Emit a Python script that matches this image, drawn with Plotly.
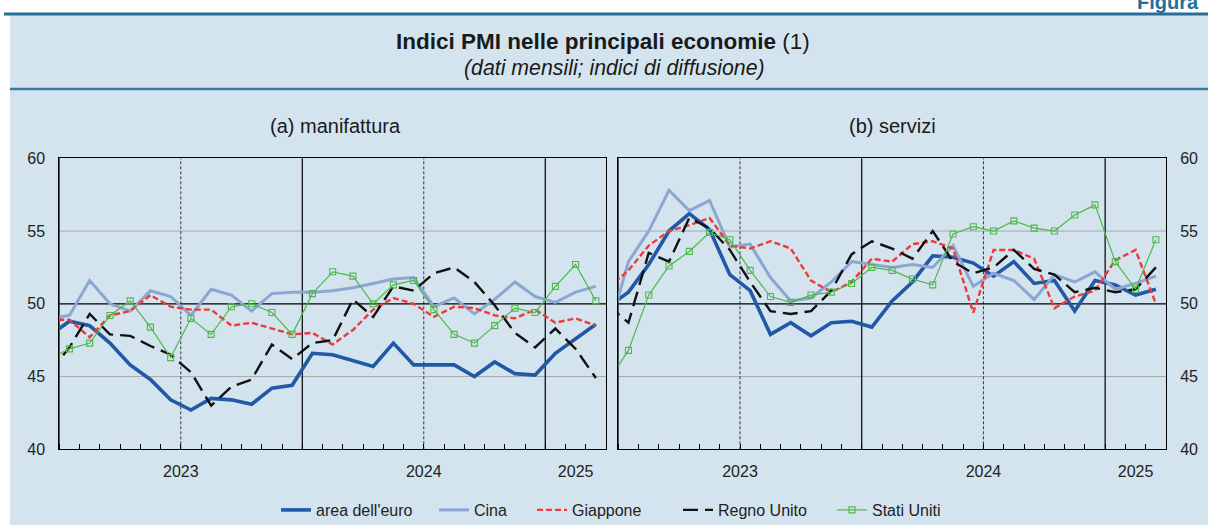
import plotly.graph_objects as go

# ---------------- data ----------------
months = ["2022-12",
          "2023-01", "2023-02", "2023-03", "2023-04", "2023-05", "2023-06",
          "2023-07", "2023-08", "2023-09", "2023-10", "2023-11", "2023-12",
          "2024-01", "2024-02", "2024-03", "2024-04", "2024-05", "2024-06",
          "2024-07", "2024-08", "2024-09", "2024-10", "2024-11", "2024-12",
          "2025-01", "2025-02", "2025-03"]
years = ["2023", "2024", "2025"]
series_names = ["area dell'euro", "Cina", "Giappone", "Regno Unito", "Stati Uniti"]

# (a) manifattura
euro_m  = [47.8, 48.8, 48.5, 47.3, 45.8, 44.8, 43.4, 42.7, 43.5, 43.4, 43.1, 44.2, 44.4,
           46.6, 46.5, 46.1, 45.7, 47.3, 45.8, 45.8, 45.8, 45.0, 46.0, 45.2, 45.1,
           46.6, 47.6, 48.6]
china_m = [49.0, 49.2, 51.6, 50.0, 49.5, 50.9, 50.5, 49.2, 51.0, 50.6, 49.5, 50.7, 50.8,
           50.8, 50.9, 51.1, 51.4, 51.7, 51.8, 49.8, 50.4, 49.3, 50.3, 51.5, 50.5,
           50.1, 50.8, 51.2]
japan_m = [48.9, 48.9, 47.7, 49.2, 49.5, 50.6, 49.8, 49.6, 49.6, 48.5, 48.7, 48.3, 47.9,
           48.0, 47.2, 48.2, 49.6, 50.4, 50.0, 49.1, 49.8, 49.7, 49.2, 49.0, 49.6,
           48.7, 49.0, 48.5]
uk_m    = [45.3, 47.0, 49.3, 47.9, 47.8, 47.1, 46.5, 45.3, 43.0, 44.3, 44.8, 47.2, 46.2,
           47.3, 47.5, 50.3, 49.1, 51.2, 50.9, 52.1, 52.5, 51.5, 49.9, 48.0, 47.0,
           48.3, 46.9, 44.9]
us_m    = [46.2, 46.9, 47.3, 49.2, 50.2, 48.4, 46.3, 49.0, 47.9, 49.8, 50.0, 49.4, 47.9,
           50.7, 52.2, 51.9, 50.0, 51.3, 51.6, 49.6, 47.9, 47.3, 48.5, 49.7, 49.4,
           51.2, 52.7, 50.2]

# (b) servizi
euro_s  = [49.8, 50.8, 52.7, 55.0, 56.2, 55.1, 52.0, 50.9, 47.9, 48.7, 47.8, 48.7, 48.8,
           48.4, 50.2, 51.5, 53.3, 53.2, 52.8, 51.9, 52.9, 51.4, 51.6, 49.5, 51.6,
           51.3, 50.6, 51.0]
china_s = [48.0, 52.9, 55.0, 57.8, 56.4, 57.1, 53.9, 54.1, 51.8, 50.2, 50.4, 51.5, 52.9,
           52.7, 52.5, 52.7, 52.5, 54.0, 51.2, 52.1, 51.6, 50.3, 52.0, 51.5, 52.2,
           51.0, 51.4, 51.9]
japan_s = [51.1, 52.3, 54.0, 55.0, 55.4, 55.9, 54.0, 53.8, 54.3, 53.8, 51.6, 50.8, 51.5,
           53.1, 52.9, 54.1, 54.3, 53.8, 49.4, 53.7, 53.7, 53.1, 49.7, 50.5, 50.9,
           53.0, 53.7, 50.0]
uk_s    = [49.9, 48.7, 53.5, 52.9, 55.9, 55.2, 53.7, 51.5, 49.5, 49.3, 49.5, 50.9, 53.4,
           54.3, 53.8, 53.1, 55.0, 52.9, 52.1, 52.5, 53.7, 52.4, 52.0, 50.8, 51.1,
           50.8, 51.0, 52.5]
us_s    = [44.7, 46.8, 50.6, 52.6, 53.6, 54.9, 54.4, 52.3, 50.5, 50.1, 50.6, 50.8, 51.4,
           52.5, 52.3, 51.7, 51.3, 54.8, 55.3, 55.0, 55.7, 55.2, 55.0, 56.1, 56.8,
           52.9, 51.0, 54.4]

# axis levels
y_min, y_max, y_step = 40, 60, 5
ref_level = 50

# ---------------- geometry / style ----------------
W, H = 1208, 525
FONT = "Liberation Sans, Arial, Helvetica, sans-serif"
TXT = "#222222"
BG = "#d3e4ee"
TEAL = "#2b6e95"


def fx(p):
    return p / W


def fy(p):
    return 1 - p / H


start = months.index("2023-01")
idx = [i - start for i in range(len(months))]
xrange_ = [0 - 0.5, idx[-1] + 0.5]
boundaries = [v - 0.5 for v in idx[1:]] + [idx[-1] + 0.5]
year_lines = [v - 0.5 for v, m in zip(idx, months) if m.endswith("-01")]
mid_lines = [v - 0.5 for v, m in zip(idx, months) if m.endswith("-07")]
year_pos = []
for yr in years:
    vals = [v for v, m in zip(idx, months) if m.startswith(yr)]
    year_pos.append(sum(vals) / len(vals))
grid_levels = [v for v in range(y_min + y_step, y_max, y_step) if v != ref_level]

styles = [
    dict(color="#2159a6", width=3.6, dash="solid", marker=False),
    dict(color="#8ba7d1", width=3.0, dash="solid", marker=False),
    dict(color="#ef3a3a", width=2.4, dash="6px,3px", marker=False),
    dict(color="#111111", width=2.4, dash="15px,7px", marker=False),
    dict(color="#4fb84a", width=1.2, dash="solid", marker=True),
]
# left edge (px) of each legend entry's symbol
legend_left = [281, 439, 537, 683, 837]
legend_ids = ["legend", "legend2", "legend3", "legend4", "legend5"]

panels = [
    dict(xa="x", ya="y", data=[euro_m, china_m, japan_m, uk_m, us_m], legend=True),
    dict(xa="x2", ya="y2", data=[euro_s, china_s, japan_s, uk_s, us_s], legend=False),
]

fig = go.Figure()
for p in panels:
    for k, (name, vals, st) in enumerate(zip(series_names, p["data"], styles)):
        kw = dict(
            x=idx, y=vals, name=name, xaxis=p["xa"], yaxis=p["ya"],
            line=dict(color=st["color"], width=st["width"], dash=st["dash"]),
            showlegend=p["legend"], legend=legend_ids[k], hoverinfo="skip",
        )
        if st["marker"]:
            kw["mode"] = "lines+markers"
            kw["marker"] = dict(symbol="square-open", size=6, color=st["color"],
                                line=dict(width=1.1, color=st["color"]))
        else:
            kw["mode"] = "lines"
        fig.add_trace(go.Scatter(**kw))

ydom = [fy(449.3), fy(158.3)]
xdom1 = [fx(59.3), fx(606.0)]
xdom2 = [fx(618.3), fx(1166.0)]

xcommon = dict(
    range=xrange_, tickmode="array", tickvals=year_pos, ticktext=years,
    ticks="", showgrid=False, zeroline=False,
    showline=True, linecolor="black", linewidth=1, mirror=True,
    tickfont=dict(family=FONT, size=16, color=TXT),
    ticklabelstandoff=7,
    minor=dict(tickmode="array", tickvals=boundaries, ticks="inside",
               ticklen=5, tickwidth=1, tickcolor="black", showgrid=False),
    fixedrange=True,
)
ycommon = dict(
    range=[y_min, y_max], tickmode="linear", tick0=y_min, dtick=y_step,
    ticks="", showgrid=False,
    zeroline=False, showline=True, linecolor="black", linewidth=1, mirror=True,
    tickfont=dict(family=FONT, size=16, color=TXT),
    ticklabelstandoff=10, fixedrange=True,
)

fig.update_layout(
    xaxis=dict(domain=xdom1, anchor="y", **xcommon),
    xaxis2=dict(domain=xdom2, anchor="y2", **xcommon),
    yaxis=dict(domain=ydom, anchor="x", side="left", **ycommon),
    yaxis2=dict(domain=ydom, anchor="x2", side="right", **ycommon),
)

shapes = [
    dict(type="rect", xref="paper", yref="paper", x0=fx(10), x1=1, y0=0, y1=fy(14),
         fillcolor=BG, line=dict(width=0), layer="below"),
    dict(type="line", xref="paper", yref="paper", x0=fx(4), x1=1, y0=fy(14), y1=fy(14),
         line=dict(color=TEAL, width=3), layer="below"),
    dict(type="line", xref="paper", yref="paper", x0=fx(10), x1=1, y0=fy(89), y1=fy(89),
         line=dict(color="#3a7aa2", width=2.5), layer="below"),
]
for xa, ya in [("x", "y"), ("x2", "y2")]:
    for g in grid_levels:
        shapes.append(dict(type="line", xref=f"{xa} domain", yref=ya, x0=0, x1=1, y0=g, y1=g,
                           line=dict(color="#a8a8a8", width=1), layer="below"))
    for v in mid_lines:
        shapes.append(dict(type="line", xref=xa, yref=f"{ya} domain", x0=v, x1=v, y0=0, y1=1,
                           line=dict(color="#333333", width=1, dash="3px,2px"), layer="below"))
    shapes.append(dict(type="line", xref=f"{xa} domain", yref=ya, x0=0, x1=1,
                       y0=ref_level, y1=ref_level,
                       line=dict(color="black", width=1.3), layer="below"))
    for v in year_lines:
        shapes.append(dict(type="line", xref=xa, yref=f"{ya} domain", x0=v, x1=v, y0=0, y1=1,
                           line=dict(color="black", width=1.2), layer="below"))

annotations = [
    dict(text="<b>Figura</b>", xref="paper", yref="paper", x=fx(1201), y=fy(14.5),
         xanchor="right", yanchor="bottom", showarrow=False,
         font=dict(family=FONT, size=20, color="#1f6e98")),
    dict(text="<b>Indici PMI nelle principali economie</b> (1)", xref="paper", yref="paper",
         x=fx(603), y=fy(42), xanchor="center", yanchor="middle", showarrow=False,
         font=dict(family=FONT, size=22.5, color="#1a1a1a")),
    dict(text="<i>(dati mensili; indici di diffusione)</i>", xref="paper", yref="paper",
         x=fx(614), y=fy(68), xanchor="center", yanchor="middle", showarrow=False,
         font=dict(family=FONT, size=21.3, color="#1a1a1a")),
    dict(text="(a) manifattura", xref="paper", yref="paper", x=fx(335), y=fy(126),
         xanchor="center", yanchor="middle", showarrow=False,
         font=dict(family=FONT, size=20, color="#1a1a1a")),
    dict(text="(b) servizi", xref="paper", yref="paper", x=fx(892), y=fy(126),
         xanchor="center", yanchor="middle", showarrow=False,
         font=dict(family=FONT, size=20, color="#1a1a1a")),
]

legend_base = dict(orientation="h", xanchor="left", y=fy(510), yanchor="middle",
                   bgcolor="rgba(0,0,0,0)", borderwidth=0,
                   font=dict(family=FONT, size=16, color=TXT), itemwidth=30)
legend_layout = {}
for lid, left in zip(legend_ids, legend_left):
    legend_layout[lid] = dict(x=fx(left - 5), **legend_base)

fig.update_layout(
    width=W, height=H, autosize=False,
    margin=dict(l=0, r=0, t=0, b=0, pad=0, autoexpand=False),
    paper_bgcolor="white", plot_bgcolor="white",
    shapes=shapes, annotations=annotations,
    font=dict(family=FONT, color=TXT),
    hovermode=False,
    **legend_layout,
)

fig.write_html("out.html", config={"displayModeBar": False},
               post_script="document.body.style.margin='0';")
